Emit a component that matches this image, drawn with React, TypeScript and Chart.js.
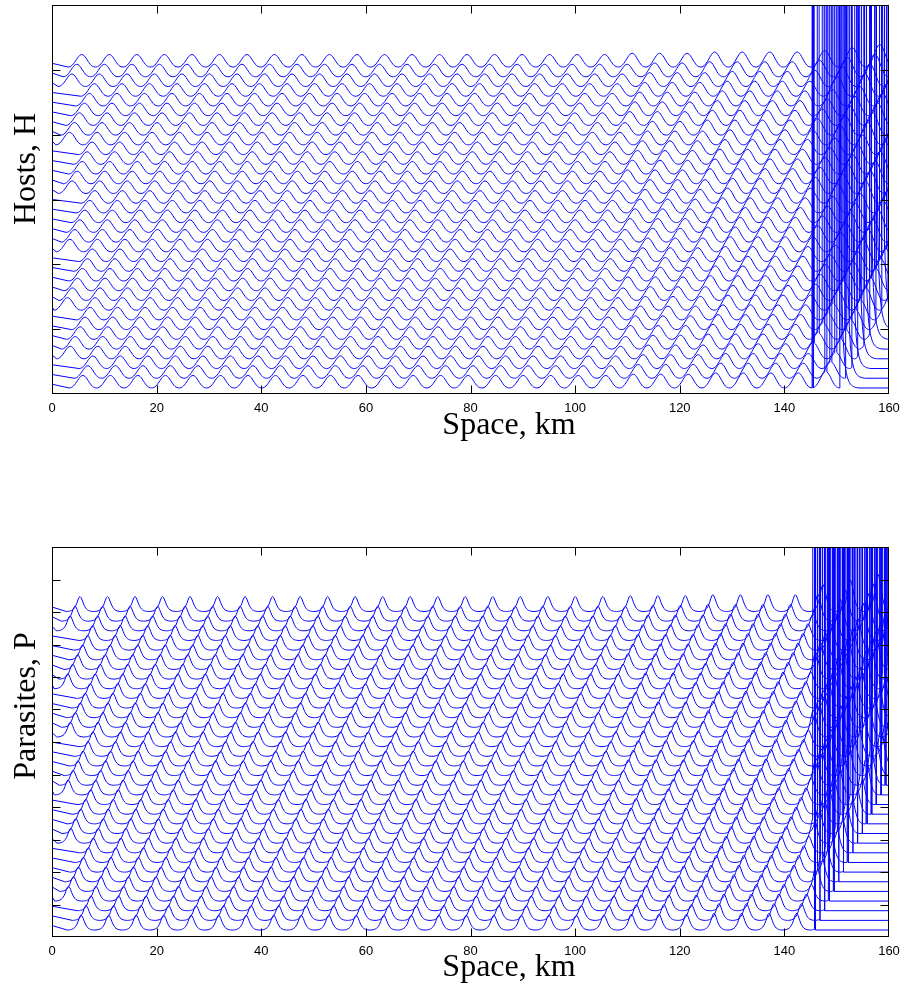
import React, { useEffect, useRef } from "react";
import { Chart, registerables } from "chart.js";

Chart.register(...registerables);

// ---- data -------------------------------------------------------------
const spaceTicks = [0, 20, 40, 60, 80, 100, 120, 140, 160];

// one wavelength of each snapshot, trough to trough (0 = trough, 1 = crest)
const hostProfile = [
  0.0, 0.01, 0.04, 0.09, 0.16, 0.25, 0.36, 0.48, 0.61, 0.73, 0.84, 0.93, 0.98,
  1.0, 0.98, 0.92, 0.83, 0.71, 0.58, 0.45, 0.33, 0.22, 0.13, 0.07, 0.03, 0.01,
];
const parasiteProfile = [
  0.0, 0.0, 0.01, 0.02, 0.04, 0.07, 0.11, 0.17, 0.26, 0.38, 0.55, 0.76, 0.93,
  1.0, 0.93, 0.77, 0.58, 0.41, 0.28, 0.18, 0.11, 0.07, 0.04, 0.02, 0.01, 0.0,
];

const wavelengthKm = 5.26;
const phaseStepKm = 0.95; // drift of the wave train between stacked snapshots
const spikeZoneStart = 145.5; // km, where the outbreak region begins

// invasion front of each snapshot, bottom to top (km)
const hostFront = [
  150.6, 151.8, 152.9, 154.1, 155.2, 156.4, 157.5, 158.7, 159.8, 161.0, 162.1,
  163.3, 164.4, 165.6, 166.7, 167.9, 169.0, 170.2, 171.3, 172.5, 173.6, 174.8,
  175.9, 177.1, 178.2, 179.4, 180.5, 181.7, 182.8, 184.0, 185.1, 186.3, 187.4,
  188.6,
];
const parasiteFront = [
  145.9, 146.8, 147.7, 148.6, 149.5, 150.4, 151.3, 152.2, 153.1, 154.0, 154.9,
  155.8, 156.7, 157.6, 158.5, 159.4, 160.3, 161.2, 162.1, 163.0, 163.9, 164.8,
  165.7, 166.6, 167.5, 168.4, 169.3, 170.2, 171.1, 172.0, 172.9, 173.8, 174.7,
  175.6,
];

// crest height relative to the far field, by distance bins (upper edges, km)
const gainBinEdges = [110, 125, 145.5, 150, 155, 160.1];
const hostCrestGain = [1.0, 1.1, 1.2, 1.3, 1.55, 1.8];
const parasiteCrestGain = [1.0, 1.06, 1.12, 1.8, 2.1, 2.5];

// level above the resting value just ahead of the front, every wavelength/26 km
const hostTail = [60, 25, 13, 8, 5, 3.4, 2.4, 1.7, 1.2, 0.85, 0.6, 0.42, 0.3, 0.2, 0.13, 0.08, 0.05, 0.02, 0];
const parasiteTail = [0];

interface Panel {
  profile: number[];
  front: number[];
  crestGain: number[];
  tail: number[];
  base0: number;
  gap: number;
  amp: number;
  firstCrest: number;
  spikeWindow: number;
  high: number;
  yMax: number;
}

const hostPanel: Panel = {
  profile: hostProfile,
  front: hostFront,
  crestGain: hostCrestGain,
  tail: hostTail,
  base0: 0.93,
  gap: 1.5,
  amp: 1.93,
  firstCrest: 5.7,
  spikeWindow: 10,
  high: 400,
  yMax: 60,
};

const parasitePanel: Panel = {
  profile: parasiteProfile,
  front: parasiteFront,
  crestGain: parasiteCrestGain,
  tail: parasiteTail,
  base0: 2.15,
  gap: 2.97,
  amp: 4.6,
  firstCrest: 5.35,
  spikeWindow: 12,
  high: 800,
  yMax: 120,
};

type Pt = { x: number; y: number };

function buildTrace(p: Panel, i: number): Pt[] {
  const n = p.front.length;
  const m = p.profile.length;
  const dx = wavelengthKm / m;
  const crestIdx = p.profile.indexOf(Math.max(...p.profile));
  const base = p.base0 + i * p.gap;
  const front = p.front[i];
  const stopAt = front <= 160 ? front : 160 + dx;
  const lo = crestIdx * dx + 0.3;
  let crest0 = p.firstCrest - (n - 1 - i) * phaseStepKm;
  crest0 = lo + ((((crest0 - lo) % wavelengthKm) + wavelengthKm) % wavelengthKm);
  const spikeFrom = Math.max(spikeZoneStart, front - p.spikeWindow);
  const pts: Pt[] = [{ x: 0, y: base + p.amp * 0.3 }];
  let zonePassed = false;
  for (let k = 0; ; k++) {
    const start = crest0 - crestIdx * dx + k * wavelengthKm;
    if (start >= stopAt) break;
    const crest = start + crestIdx * dx;
    const spiking = crest >= spikeFrom && crest < front;
    const b = gainBinEdges.findIndex((e) => crest < e);
    const gain = p.crestGain[b < 0 ? gainBinEdges.length - 1 : b];
    for (let j = 0; j < m; j++) {
      const x = start + j * dx;
      if (x >= stopAt) break;
      if (!zonePassed && x >= spikeZoneStart) {
        zonePassed = true;
        // the lowest snapshot shoots up right at the edge of the outbreak region
        if (i === 0 && front > spikeZoneStart + 0.5) {
          pts.push({ x: spikeZoneStart, y: p.high });
          pts.push({ x: spikeZoneStart + 0.03, y: p.high });
        }
      }
      if (j === crestIdx && spiking) {
        pts.push({ x: x - 0.02, y: p.high });
        pts.push({ x: x + 0.02, y: p.high });
        continue;
      }
      pts.push({ x, y: base + p.amp * gain * p.profile[j] });
    }
  }
  if (front <= 160) {
    pts.push({ x: front, y: p.high });
    p.tail.forEach((v, j) => pts.push({ x: front + 0.01 + j * dx, y: base + v }));
    pts.push({ x: 160, y: base });
  }
  return pts;
}

// ---- drawing ----------------------------------------------------------
const framePlugin = {
  id: "frame",
  afterDraw(chart: any, _args: unknown, opts: any) {
    const { ctx, chartArea: a } = chart;
    const xs = chart.scales.x;
    const ys = chart.scales.y;
    ctx.save();
    ctx.strokeStyle = "#000";
    ctx.lineWidth = 1;
    const L = Math.round(a.left) + 0.5;
    const R = Math.round(a.right) - 0.5;
    const T = Math.round(a.top) + 0.5;
    const B = Math.round(a.bottom) - 0.5;
    const len = 8;
    ctx.beginPath();
    for (const t of xs.ticks) {
      const px = Math.round(xs.getPixelForValue(t.value)) + 0.5;
      if (px <= L + 1 || px >= R - 1) continue;
      ctx.moveTo(px, B);
      ctx.lineTo(px, B - len);
      ctx.moveTo(px, T);
      ctx.lineTo(px, T + len);
    }
    for (const t of ys.ticks) {
      const py = Math.round(ys.getPixelForValue(t.value)) + 0.5;
      if (py <= T + 1 || py >= B - 1) continue;
      ctx.moveTo(L, py);
      ctx.lineTo(L + len, py);
      ctx.moveTo(R, py);
      ctx.lineTo(R - len, py);
    }
    ctx.stroke();
    ctx.strokeRect(L, T, R - L, B - T);

    ctx.fillStyle = "#000";
    ctx.font = '32px "Liberation Serif", "Times New Roman", serif';
    ctx.textAlign = "center";
    ctx.textBaseline = "alphabetic";
    ctx.fillText(opts.xTitle, opts.xTitleX, opts.xTitleY);
    ctx.translate(opts.yTitleX, opts.yTitleY);
    ctx.rotate(-Math.PI / 2);
    ctx.fillText(opts.yTitle, 0, 0);
    ctx.restore();
  },
};

interface PanelChartProps {
  panel: Panel;
  height: number;
  padTop: number;
  axisHeight: number;
  yTitle: string;
  yTitleY: number;
  xTitleY: number;
}

function PanelChart(props: PanelChartProps) {
  const ref = useRef<HTMLCanvasElement | null>(null);
  useEffect(() => {
    const canvas = ref.current;
    if (!canvas) return;
    const p = props.panel;
    const datasets = p.front.map((_, i) => ({
      data: buildTrace(p, i),
      borderColor: "#0000ff",
      borderWidth: 1,
      pointRadius: 0,
      tension: 0,
      fill: false,
    }));
    const chart = new Chart(canvas, {
      type: "line",
      data: { datasets },
      plugins: [framePlugin],
      options: {
        animation: false,
        responsive: false,
        maintainAspectRatio: false,
        events: [],
        parsing: false,
        normalized: true,
        layout: { padding: { left: 0, right: 15, top: props.padTop, bottom: 0 } },
        plugins: {
          legend: { display: false },
          tooltip: { enabled: false },
          frame: {
            xTitle: "Space, km",
            xTitleX: 509,
            xTitleY: props.xTitleY,
            yTitle: props.yTitle,
            yTitleX: 35,
            yTitleY: props.yTitleY,
          },
        } as any,
        scales: {
          x: {
            type: "linear",
            min: 0,
            max: 160,
            afterBuildTicks: (s: any) => {
              s.ticks = spaceTicks.map((v) => ({ value: v }));
            },
            afterFit: (s: any) => {
              s.height = props.axisHeight;
              s.paddingLeft = 0;
              s.paddingRight = 0;
            },
            grid: { display: false, drawTicks: false },
            border: { display: false },
            ticks: {
              font: { family: '"Liberation Sans", Arial, sans-serif', size: 13 },
              color: "#000",
              padding: 7,
              maxRotation: 0,
              autoSkip: false,
            },
          },
          y: {
            type: "linear",
            min: 0,
            max: p.yMax,
            ticks: { display: false, stepSize: 10 },
            grid: { display: false, drawTicks: false },
            border: { display: false },
            afterFit: (s: any) => {
              s.width = 52;
            },
          },
        },
      } as any,
    });
    return () => chart.destroy();
  }, []);
  return (
    <canvas
      ref={ref}
      width={904}
      height={props.height}
      style={{ display: "block", width: 904, height: props.height }}
    />
  );
}

export default function App() {
  return (
    <div
      style={{
        position: "absolute",
        left: 0,
        top: 0,
        width: 904,
        height: 984,
        background: "#fff",
      }}
    >
      <PanelChart
        panel={hostPanel}
        height={492}
        padTop={5}
        axisHeight={98}
        yTitle="Hosts, H"
        yTitleY={169}
        xTitleY={434}
      />
      <PanelChart
        panel={parasitePanel}
        height={492}
        padTop={55}
        axisHeight={47}
        yTitle="Parasites, P"
        yTitleY={214}
        xTitleY={484}
      />
    </div>
  );
}
